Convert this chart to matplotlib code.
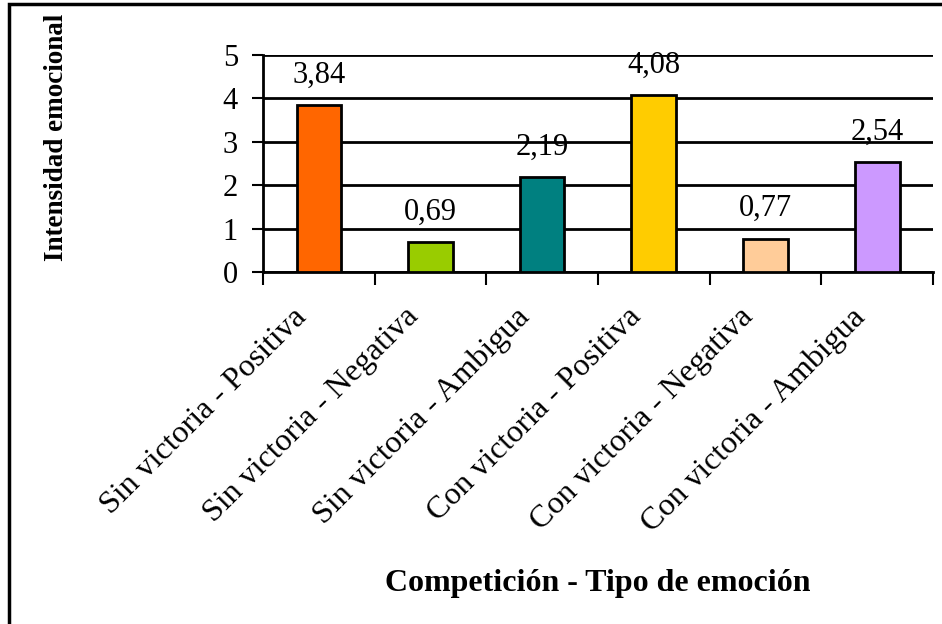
import matplotlib.pyplot as plt
import numpy as np
from matplotlib.patches import Rectangle

plt.rcParams["font.family"] = ["Liberation Serif", "DejaVu Serif"]

categorias = ["Sin victoria - Positiva", "Sin victoria - Negativa", "Sin victoria - Ambigua",
              "Con victoria - Positiva", "Con victoria - Negativa", "Con victoria - Ambigua"]
intensidad = [3.84, 0.69, 2.19, 4.08, 0.77, 2.54]
colores = ["#FF6600", "#99CC00", "#008080", "#FFCC00", "#FFCC99", "#CC99FF"]

fig = plt.figure(figsize=(9.42, 6.24), dpi=100)
ax = fig.add_axes([263 / 942, 1 - 272 / 624, (933 - 263) / 942, (272 - 55) / 624])

xpos = np.arange(len(categorias))
ax.bar(xpos, intensidad, width=0.4, color=colores, edgecolor="black", linewidth=2, zorder=3)

for x, v in zip(xpos, intensidad):
    ax.annotate(f"{v:.2f}".replace(".", ","), (x, v), xytext=(0, 11), textcoords="offset points",
                ha="center", va="bottom", fontsize=22, zorder=4)

ax.set_xlim(-0.5, len(categorias) - 0.5)
ax.set_ylim(0, 5)
ax.set_yticks(range(6))
ax.yaxis.grid(True, color="black", linewidth=2)
ax.set_axisbelow(True)

# category ticks sit between bars, labels hang below each bar
ax.set_xticks(np.arange(-0.5, len(categorias), 1.0))
ax.set_xticklabels([])
ax.tick_params(axis="x", length=9, width=1.5, direction="out")
ax.tick_params(axis="y", length=8, width=1.5, direction="out", labelsize=22, pad=10)
for x, lab in zip(xpos, categorias):
    ax.text(x - 0.24, -0.7, lab, rotation=45, rotation_mode="anchor", ha="right", va="top",
            fontsize=23)

for side in ["top", "right"]:
    ax.spines[side].set_visible(False)
ax.spines["left"].set_linewidth(2)
ax.spines["bottom"].set_linewidth(2)

fig.text(598 / 942, 1 - 583 / 624, "Competición - Tipo de emoción", ha="center", va="center",
         fontsize=23, fontweight="bold")
fig.text(57 / 942, 1 - 137 / 624, "Intensidad emocional", ha="center", va="center", rotation=90,
         fontsize=19.5, fontweight="bold")

# outer chart frame
fig.patches.append(Rectangle((9 / 942, -0.1), 1.2, 1 - 4 / 624 + 0.1, transform=fig.transFigure,
                             fill=False, edgecolor="black", linewidth=2.5))

fig.savefig("out.png", dpi=100)
